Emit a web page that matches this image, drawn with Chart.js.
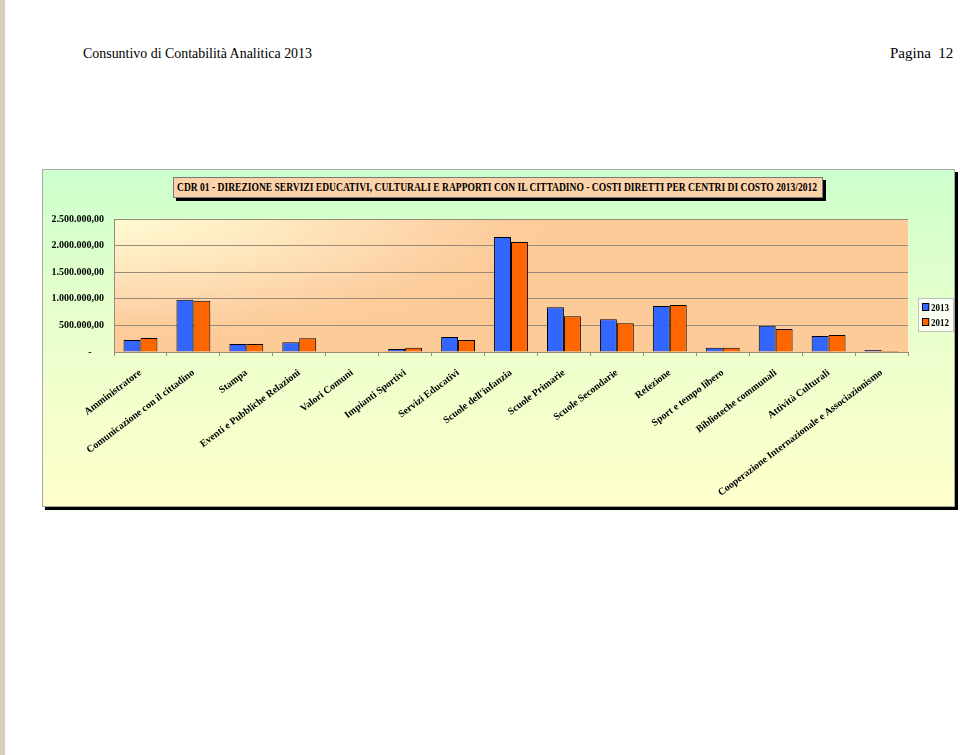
<!DOCTYPE html>
<html>
<head>
<meta charset="utf-8">
<script src="https://cdn.jsdelivr.net/npm/chart.js@4"></script>
<style>
  body { margin: 0; background: #fff; width: 960px; height: 755px; position: relative; overflow: hidden; font-family: "Liberation Serif", "Times New Roman", serif; }
  #strip { position: absolute; left: 0; top: 0; width: 5px; height: 755px; background: #d8cfbd; }
  .hdr { position: absolute; top: 45px; font-size: 15px; white-space: nowrap; transform-origin: left top; }
  #box { position: absolute; left: 42px; top: 169px; width: 911px; height: 336px; border: 1px solid #a8a8a8;
         box-shadow: 3px 3px 0 #000; background: linear-gradient(to bottom, #ccffcc 0%, #e8ffcc 45%, #ffffcc 100%); }
  #title { position: absolute; left: 173px; top: 177px; width: 648px; height: 19px; background: #fcd3a8;
           border: 1px solid #777; box-shadow: 3px 3px 0 #000; overflow: hidden; }
  #title span { position: absolute; left: 3px; top: 3px; font-weight: bold; font-size: 11.5px; white-space: nowrap; transform-origin: left top; }
  #wrap { position: absolute; left: 42px; top: 169px; width: 913px; height: 337px; }
  #legend { position: absolute; left: 918px; top: 298px; width: 34px; height: 32px; background: rgba(255,255,255,0.75);
            border: 1px solid #c0c0c0; font-weight: bold; font-size: 10px; }
  #legend div { position: absolute; left: 3px; white-space: nowrap; line-height: 12px; transform-origin: left top; transform: scaleX(0.9); }
  #legend i { display: inline-block; width: 6px; height: 6px; border: 1px solid #000; margin-right: 2px; vertical-align: 0px; }
</style>
</head>
<body>
<div id="strip"></div>
<div class="hdr" id="h1" style="left:83px">Consuntivo di Contabilità Analitica 2013</div>
<div class="hdr" id="h2" style="left:890px">Pagina&nbsp;&nbsp;12</div>
<div id="box"></div>
<div id="title"><span id="titleText">CDR 01 - DIREZIONE SERVIZI EDUCATIVI, CULTURALI E RAPPORTI CON IL CITTADINO - COSTI DIRETTI PER CENTRI DI COSTO 2013/2012</span></div>
<div id="wrap"><canvas id="chart"></canvas></div>
<div id="legend"></div>
<script>
const categories = [
  'Amministratore',
  'Comunicazione con il cittadino',
  'Stampa',
  'Eventi e Pubbliche Relazioni',
  'Valori Comuni',
  'Impianti Sportivi',
  'Servizi Educativi',
  "Scuole dell'infanzia",
  'Scuole Primarie',
  'Scuole Secondarie',
  'Refezione',
  'Sport e tempo libero',
  'Biblioteche communali',
  'Attività Culturali',
  'Cooperazione Internazionale e Associazionismo'
];
const seriesNames = ['2013', '2012'];
const values2013 = [225000, 983000, 150000, 182000, 0, 56000, 282000, 2160000, 840000, 615000, 865000, 81000, 494000, 301000, 38000];
const values2012 = [263000, 964000, 150000, 257000, 0, 81000, 225000, 2070000, 671000, 540000, 883000, 81000, 432000, 320000, 19000];
const yTicks = [0, 500000, 1000000, 1500000, 2000000, 2500000];
const colors = ['#3366ff', '#ff6600'];

// fit the condensed-looking texts
function squeeze(id, target) {
  const el = document.getElementById(id);
  const w = el.getBoundingClientRect().width;
  el.style.transform = 'scaleX(' + (target / w) + ')';
}
squeeze('h1', 229);
squeeze('titleText', 640);

function fmt(v) {
  if (v === 0) return '-     ';
  const s = String(Math.round(v)).replace(/\B(?=(\d{3})+(?!\d))/g, '.');
  return s + ',00';
}

const legendEl = document.getElementById('legend');
seriesNames.forEach((n, i) => {
  const d = document.createElement('div');
  d.style.top = (3 + i * 15) + 'px';
  d.innerHTML = '<i style="background:' + colors[i] + '"></i>' + n;
  legendEl.appendChild(d);
});

const plotBg = {
  id: 'plotBg',
  beforeDraw(chart) {
    const { ctx, chartArea: a } = chart;
    ctx.save();
    ctx.fillStyle = '#fccb98';
    ctx.fillRect(a.left, a.top, a.right - a.left, a.bottom - a.top);
    ctx.beginPath();
    ctx.rect(a.left, a.top, a.right - a.left, a.bottom - a.top);
    ctx.clip();
    ctx.translate(a.left, a.top);
    ctx.scale(3.6, 1);
    const g = ctx.createRadialGradient(0, 0, 0, 0, 0, 125);
    g.addColorStop(0, '#fffbd2');
    g.addColorStop(0.4, '#fee6bd');
    g.addColorStop(0.75, '#fdd2a5');
    g.addColorStop(1, 'rgba(252,203,152,0)');
    ctx.fillStyle = g;
    ctx.fillRect(0, 0, 400, 200);
    ctx.restore();
  }
};

new Chart(document.getElementById('chart'), {
  type: 'bar',
  data: {
    labels: categories,
    datasets: [
      { label: seriesNames[0], data: values2013, backgroundColor: colors[0], borderColor: '#000', borderWidth: 1 },
      { label: seriesNames[1], data: values2012, backgroundColor: colors[1], borderColor: '#000', borderWidth: 1 }
    ]
  },
  options: {
    responsive: true,
    maintainAspectRatio: false,
    animation: false,
    datasets: { bar: { categoryPercentage: 0.64, barPercentage: 1.0 } },
    layout: { padding: { top: 50, right: 47, left: 0, bottom: 0 } },
    plugins: { legend: { display: false }, title: { display: false }, tooltip: { enabled: false } },
    scales: {
      x: {
        grid: { offset: true, drawOnChartArea: false, tickLength: 4, color: '#9a8a78' },
        border: { color: '#9a8a78' },
        ticks: {
          autoSkip: false, minRotation: 37, maxRotation: 37, padding: 11,
          color: '#000', font: { family: 'Liberation Serif', weight: 'bold', size: 10 }
        },
        afterFit(scale) { scale.height = 154; }
      },
      y: {
        min: 0, max: 2500000,
        afterBuildTicks(scale) { scale.ticks = yTicks.map(v => ({ value: v })); },
        grid: { color: '#9a8a78', drawTicks: false },
        border: { color: '#9a8a78' },
        ticks: {
          padding: 10, color: '#000', callback: v => fmt(v),
          font: { family: 'Liberation Serif', weight: 'bold', size: 10 }
        },
        afterFit(scale) { scale.width = 72; }
      }
    }
  },
  plugins: [plotBg]
});
</script>
</body>
</html>
